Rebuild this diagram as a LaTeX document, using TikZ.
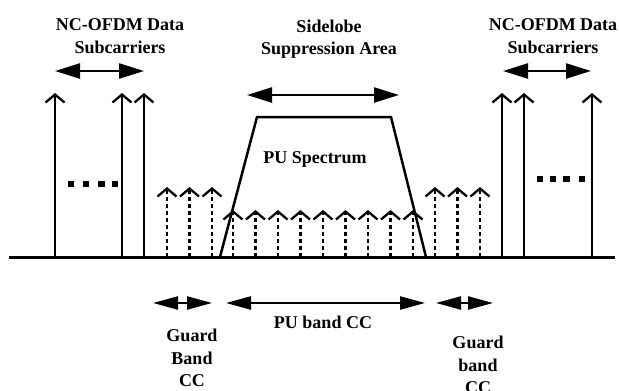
\documentclass[tikz,border=0pt]{standalone}
\usepackage{fontspec}
\setmainfont{Liberation Serif}
\usetikzlibrary{arrows.meta}
\begin{document}
\begin{tikzpicture}[x=1pt,y=-1pt,
  lbl/.style={font=\fontsize{18}{22.5}\selectfont\bfseries, align=center, inner sep=0pt},
  carrier/.style={line width=2.3pt, -{Straight Barb[length=8pt,width=19pt]}},
  dcarrier/.style={carrier, dash pattern=on 4pt off 3pt},
  dbl/.style={line width=2.3pt, {Triangle[length=25pt,width=15pt]}-{Triangle[length=25pt,width=15pt]}},
  dblb/.style={line width=2.3pt, {Triangle[length=25pt,width=13pt]}-{Triangle[length=25pt,width=13pt]}},
  sq/.style={fill=black, minimum size=6.5pt, inner sep=0pt}
]
\useasboundingbox (0,0) rectangle (619,391);
% baseline
\coordinate (b0) at (9,257);
\coordinate (b1) at (615,257);
\draw[line width=3pt] (b0) -- (b1);
% PU spectrum trapezoid
\coordinate (t1) at (220,257);
\coordinate (t2) at (257,117);
\coordinate (t3) at (391,117);
\coordinate (t4) at (426,257);
\draw[line width=2.5pt, line join=miter] (t1) -- (t2) -- (t3) -- (t4);
\node[lbl] (pus) at (315,159) {PU Spectrum};
% solid data subcarriers
\foreach \x/\n in {55/s1,122/s2,144/s3,502/s4,524/s5,592/s6}{
  \coordinate (\n b) at (\x,257);
  \coordinate (\n t) at (\x,93);
  \draw[carrier] (\n b) -- (\n t);
}
% guard band dotted carriers
\foreach \x/\n in {167/g1,189.5/g2,212/g3,435/g4,457.5/g5,480/g6}{
  \coordinate (\n b) at (\x,257);
  \coordinate (\n t) at (\x,187);
  \draw[dcarrier] (\n b) -- (\n t);
}
% PU band dotted carriers
\foreach \k in {0,...,8}{
  \coordinate (p\k b) at ({233+22.5*\k},257);
  \coordinate (p\k t) at ({233+22.5*\k},210);
  \draw[dcarrier] (p\k b) -- (p\k t);
}
% dots
\foreach \x in {71,86,101.5,115}{ \node[sq] at (\x,184) {}; }
\foreach \x in {540,553,566.5,582}{ \node[sq] at (\x,179) {}; }
% top labels and arrows
\node[lbl] (lnc) at (120,36) {NC-OFDM Data\\Subcarriers};
\node[lbl] (rnc) at (553,36) {NC-OFDM Data\\Subcarriers};
\node[lbl] (sls) at (329,39) {Sidelobe\\Suppression Area};
\coordinate (la1) at (55,71);  \coordinate (la2) at (144,71);
\coordinate (ra1) at (503,71); \coordinate (ra2) at (591,71);
\coordinate (sa1) at (247,95); \coordinate (sa2) at (399,95);
\draw[dbl] (la1) -- (la2);
\draw[dbl] (ra1) -- (ra2);
\draw[dbl] (sa1) -- (sa2);
% bottom arrows and labels
\coordinate (ga1) at (153,303); \coordinate (ga2) at (212,303);
\coordinate (pa1) at (226,303); \coordinate (pa2) at (425,303);
\coordinate (gb1) at (436,303); \coordinate (gb2) at (493,303);
\draw[dblb] (ga1) -- (ga2);
\draw[dblb] (pa1) -- (pa2);
\draw[dblb] (gb1) -- (gb2);
\node[lbl] (pub) at (323,322) {PU band CC};
\node[lbl] (gl) at (192,358) {Guard\\Band\\CC};
\node[lbl] (gr) at (478,365) {Guard\\band\\CC};
\end{tikzpicture}
\end{document}
